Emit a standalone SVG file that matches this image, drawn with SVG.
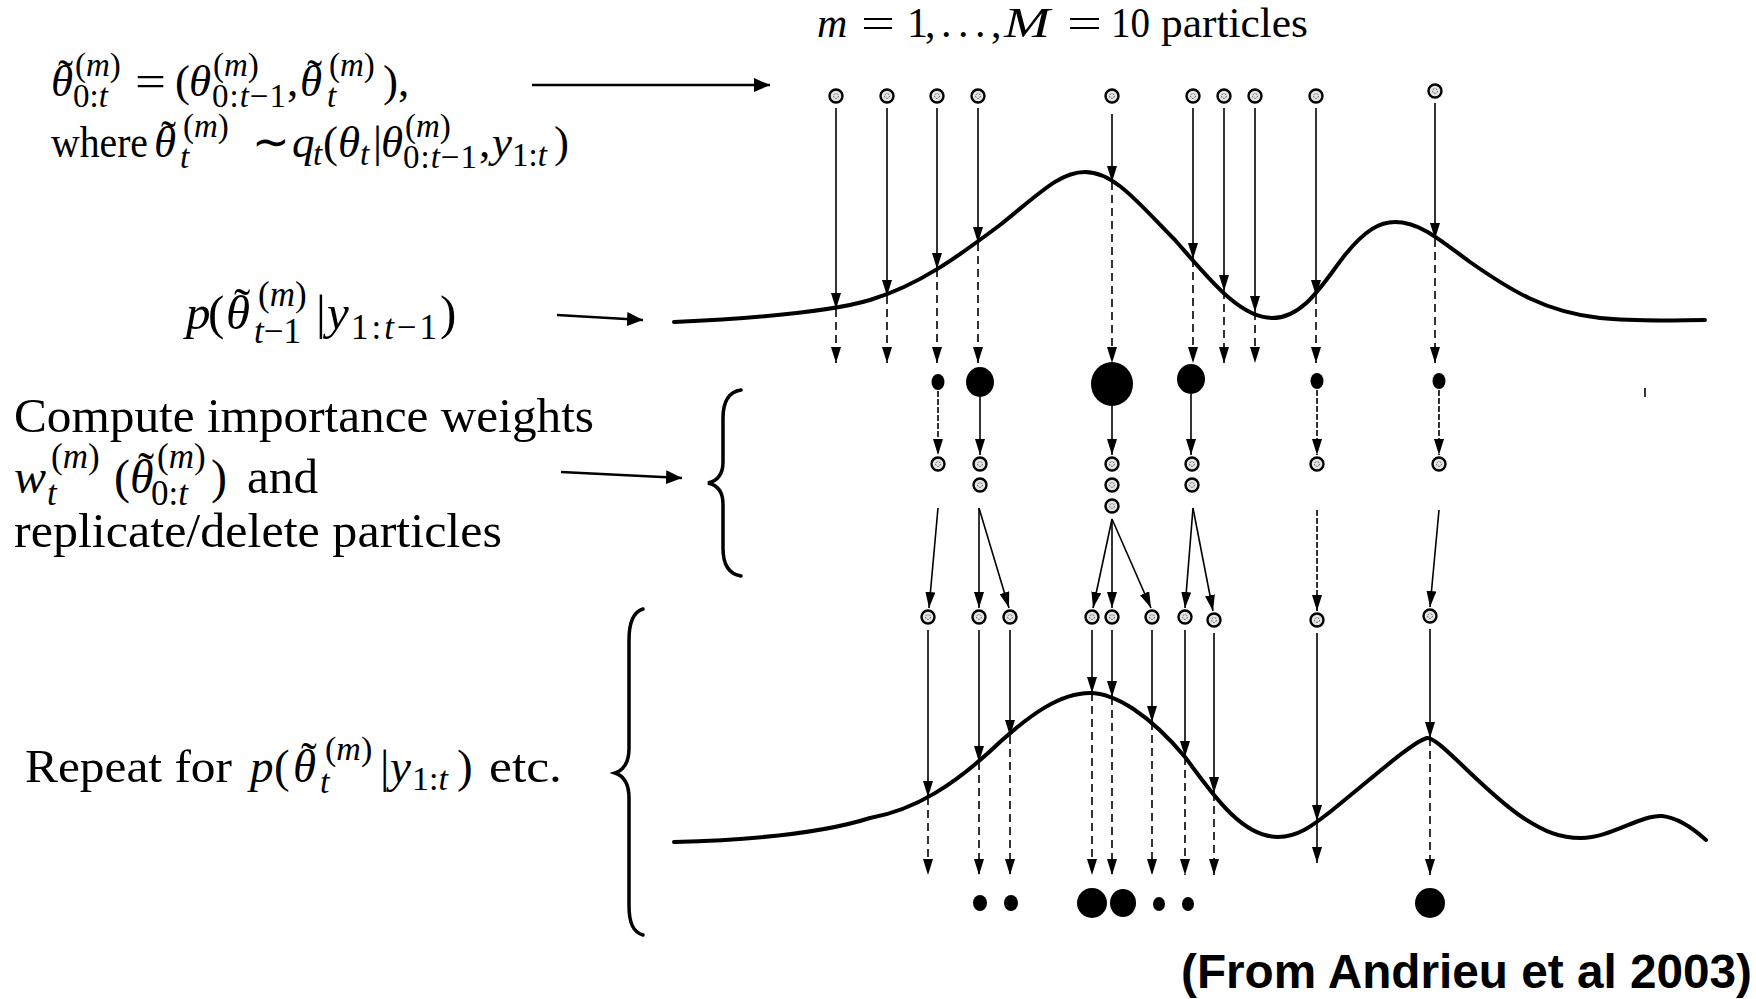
<svg xmlns="http://www.w3.org/2000/svg" xmlns:xlink="http://www.w3.org/1999/xlink" width="1756" height="999" viewBox="0 0 1756 999">
<style>
.t{font-family:"Liberation Serif","Times New Roman",serif;fill:#000}
.i{font-style:italic}
.sans{font-family:"Liberation Sans",Arial,sans-serif;font-weight:bold;fill:#000}
.ln{stroke:#000;stroke-width:1.6;fill:none}
.dash{stroke-dasharray:8 5}
.brk{stroke-dasharray:6 2}
.curve{stroke:#000;stroke-width:4;fill:none;stroke-linecap:round;stroke-linejoin:round}
.brace{stroke:#000;stroke-width:3.5;fill:none;stroke-linecap:round}
.tarrow{stroke:#000;stroke-width:2.5;fill:none}
.dot{fill:#000}
</style>
<defs>
<marker id="ah" viewBox="0 0 16 10" refX="16" refY="5" markerWidth="16" markerHeight="10" markerUnits="userSpaceOnUse" orient="auto"><path d="M0,0 L16,5 L0,10 z" fill="#000"/></marker>
<marker id="ahb" viewBox="0 0 16 14" refX="16" refY="7" markerWidth="16" markerHeight="14" markerUnits="userSpaceOnUse" orient="auto"><path d="M0,0 L16,7 L0,14 z" fill="#000"/></marker>
<g id="pt"><circle r="6.5" fill="#e4e4e4" stroke="#000" stroke-width="2.4"/><circle r="2.4" fill="none" stroke="#555" stroke-width="1" stroke-dasharray="1.5 1.2"/></g>
</defs>
<rect width="1756" height="999" fill="#fff"/>

<!-- text labels -->
<g id="label-particles">
<text class="t" font-size="42">
<tspan x="817" y="37" class="i">m</tspan><tspan x="861" y="37" textLength="34" lengthAdjust="spacingAndGlyphs">=</tspan><tspan x="907" y="37">1</tspan><tspan x="925" y="37">,</tspan><tspan x="941" y="37">.</tspan><tspan x="958" y="37">.</tspan><tspan x="975" y="37">.</tspan><tspan x="991" y="37">,</tspan><tspan x="1004" y="37" class="i" textLength="46" lengthAdjust="spacingAndGlyphs">M</tspan><tspan x="1067" y="37" textLength="35" lengthAdjust="spacingAndGlyphs">=</tspan><tspan x="1111" y="37" textLength="39" lengthAdjust="spacingAndGlyphs">10</tspan><tspan x="1161" y="37" textLength="147" lengthAdjust="spacingAndGlyphs">particles</tspan>
</text>
</g>

<g id="label-proposal">
<text class="t" font-size="45">
<tspan x="51" y="96" class="i">θ</tspan><tspan x="58" y="90">˜</tspan>
<tspan x="75" y="76" font-size="33">(<tspan class="i">m</tspan>)</tspan>
<tspan x="73" y="107" font-size="33">0:<tspan class="i">t</tspan></tspan>
<tspan x="135" y="96" textLength="31" lengthAdjust="spacingAndGlyphs">=</tspan>
<tspan x="175" y="96">(</tspan>
<tspan x="189" y="96" class="i">θ</tspan>
<tspan x="213" y="76" font-size="33">(<tspan class="i">m</tspan>)</tspan>
<tspan x="212" y="107" font-size="33" textLength="74" lengthAdjust="spacing">0:<tspan class="i">t</tspan>−1</tspan>
<tspan x="287" y="96">,</tspan>
<tspan x="300" y="96" class="i">θ</tspan><tspan x="307" y="90">˜</tspan>
<tspan x="329" y="76" font-size="33">(<tspan class="i">m</tspan>)</tspan>
<tspan x="327" y="107" font-size="33" class="i">t</tspan>
<tspan x="383" y="96">),</tspan>
</text>
<text class="t" font-size="45">
<tspan x="51" y="157" textLength="97" lengthAdjust="spacingAndGlyphs">where</tspan>
<tspan x="154" y="157" class="i">θ</tspan><tspan x="161" y="151">˜</tspan>
<tspan x="183" y="137" font-size="33">(<tspan class="i">m</tspan>)</tspan>
<tspan x="180" y="168" font-size="33" class="i">t</tspan>
<tspan x="252" y="157">∼</tspan>
<tspan x="292" y="157" class="i">q</tspan>
<tspan x="313" y="165" font-size="33" class="i">t</tspan>
<tspan x="323" y="157">(</tspan>
<tspan x="338" y="157" class="i">θ</tspan>
<tspan x="360" y="165" font-size="33" class="i">t</tspan>
<tspan x="373" y="157">|</tspan>
<tspan x="381" y="157" class="i">θ</tspan>
<tspan x="405" y="137" font-size="33">(<tspan class="i">m</tspan>)</tspan>
<tspan x="403" y="168" font-size="33" textLength="74" lengthAdjust="spacing">0:<tspan class="i">t</tspan>−1</tspan>
<tspan x="479" y="157">,</tspan>
<tspan x="492" y="157" class="i">y</tspan>
<tspan x="512" y="166" font-size="33">1:<tspan class="i">t</tspan></tspan>
<tspan x="554" y="157">)</tspan>
</text>
</g>

<g id="label-prior">
<text class="t" font-size="49">
<tspan x="186" y="329" class="i">p</tspan>
<tspan x="208" y="329">(</tspan>
<tspan x="226" y="329" class="i">θ</tspan><tspan x="234" y="322">˜</tspan>
<tspan x="258" y="306" font-size="35">(<tspan class="i">m</tspan>)</tspan>
<tspan x="254" y="343" font-size="35"><tspan class="i">t</tspan>−1</tspan>
<tspan x="316" y="329">|</tspan>
<tspan x="327" y="329" class="i">y</tspan>
<tspan x="351" y="339" font-size="35" textLength="86" lengthAdjust="spacing">1:<tspan class="i">t</tspan>−1</tspan>
<tspan x="440" y="329">)</tspan>
</text>
</g>

<g id="label-weights">
<text class="t" font-size="48">
<tspan x="14" y="432" textLength="580" lengthAdjust="spacingAndGlyphs">Compute importance weights</tspan>
</text>
<text class="t" font-size="48">
<tspan x="14" y="493" class="i">w</tspan>
<tspan x="51" y="468" font-size="35">(<tspan class="i">m</tspan>)</tspan>
<tspan x="47" y="505" font-size="35" class="i">t</tspan>
<tspan x="114" y="493">(</tspan>
<tspan x="130" y="493" class="i">θ</tspan><tspan x="138" y="486">˜</tspan>
<tspan x="157" y="468" font-size="35">(<tspan class="i">m</tspan>)</tspan>
<tspan x="151" y="505" font-size="35">0:<tspan class="i">t</tspan></tspan>
<tspan x="211" y="493">)</tspan>
<tspan x="247" y="493" textLength="71" lengthAdjust="spacingAndGlyphs">and</tspan>
</text>
<text class="t" font-size="48">
<tspan x="14" y="547" textLength="488" lengthAdjust="spacingAndGlyphs">replicate/delete particles</tspan>
</text>
</g>

<g id="label-repeat">
<text class="t" font-size="47">
<tspan x="25" y="782" textLength="207" lengthAdjust="spacingAndGlyphs">Repeat for</tspan>
<tspan x="250" y="782" class="i">p</tspan>
<tspan x="274" y="782">(</tspan>
<tspan x="293" y="782" class="i">θ</tspan><tspan x="301" y="775">˜</tspan>
<tspan x="325" y="760" font-size="34">(<tspan class="i">m</tspan>)</tspan>
<tspan x="320" y="793" font-size="34" class="i">t</tspan>
<tspan x="380" y="782">|</tspan>
<tspan x="390" y="782" class="i">y</tspan>
<tspan x="412" y="790" font-size="34">1:<tspan class="i">t</tspan></tspan>
<tspan x="457" y="782">)</tspan>
<tspan x="489" y="782" textLength="73" lengthAdjust="spacingAndGlyphs">etc.</tspan>
</text>
</g>

<g id="label-source">
<text class="sans" font-size="48" x="1181" y="988" textLength="571" lengthAdjust="spacingAndGlyphs">(From Andrieu et al 2003)</text>
</g>

<!-- braces -->
<g id="brace-weights">
<path class="brace" d="M741,390 C728,392 723,402 723,418 L723,462 C723,475 717,481 708,483 C717,485 723,491 723,504 L723,548 C723,564 728,574 741,576"/>
</g>
<g id="brace-repeat">
<path class="brace" d="M643,609 C633,612 629,622 629,640 L629,748 C629,762 624,770 615,773 C624,776 629,784 629,798 L629,905 C629,923 633,932 643,935"/>
</g>

<!-- densities -->
<g id="density-prior">
<path class="curve" d="M674,322 C760,318 830,312 870,300 C920,285 960,255 1000,225 C1040,193 1060,172 1085,172 C1115,172 1140,205 1175,240 C1210,280 1240,318 1272,318 C1305,318 1325,280 1345,255 C1365,230 1380,222 1395,222 C1420,222 1440,240 1470,262 C1510,290 1545,312 1600,318 C1640,322 1680,320 1705,320"/>
</g>
<g id="density-posterior">
<path class="curve" d="M674,842 C750,840 820,834 870,818 C915,810 955,785 1000,742 C1030,715 1060,693 1090,693 C1115,693 1150,715 1185,757 C1210,790 1240,837 1278,837 C1298,837 1312,826 1330,812 C1370,780 1412,742 1427,738 C1438,736 1482,790 1522,817 C1545,832 1560,838 1581,838 C1610,838 1640,815 1662,816 C1680,818 1695,830 1706,840"/>
</g>

<!-- particles -->
<g id="particles-proposed">
<use id="p1" href="#pt" x="836" y="96"/><use id="p2" href="#pt" x="887" y="96"/><use id="p3" href="#pt" x="937" y="96"/><use id="p4" href="#pt" x="978" y="96"/><use id="p5" href="#pt" x="1112" y="96"/><use id="p6" href="#pt" x="1193" y="96"/><use id="p7" href="#pt" x="1224" y="96"/><use id="p8" href="#pt" x="1255" y="96"/><use id="p9" href="#pt" x="1316" y="96"/><use id="p10" href="#pt" x="1435" y="91"/>
</g>
<g id="weights-1">
<ellipse class="dot" cx="938" cy="382" rx="6.5" ry="8"/>
<ellipse class="dot" cx="980" cy="382" rx="14" ry="15"/>
<ellipse class="dot" cx="1112" cy="384" rx="21" ry="22"/>
<ellipse class="dot" cx="1191" cy="379" rx="14" ry="15"/>
<ellipse class="dot" cx="1317" cy="381" rx="6.5" ry="8"/>
<ellipse class="dot" cx="1439" cy="381" rx="6.5" ry="8"/>
<line class="ln" x1="1645" y1="388" x2="1645" y2="397"/>
</g>
<g id="particles-resampled">
<use href="#pt" x="938" y="464"/>
<use href="#pt" x="980" y="464"/><use href="#pt" x="980" y="485"/>
<use href="#pt" x="1112" y="464"/><use href="#pt" x="1112" y="485"/><use href="#pt" x="1112" y="506"/>
<use href="#pt" x="1192" y="464"/><use href="#pt" x="1192" y="485"/>
<use href="#pt" x="1317" y="464"/>
<use href="#pt" x="1439" y="464"/>
</g>
<g id="particles-next">
<use href="#pt" x="928" y="617"/><use href="#pt" x="979" y="617"/><use href="#pt" x="1010" y="617"/><use href="#pt" x="1092" y="617"/><use href="#pt" x="1112" y="617"/><use href="#pt" x="1152" y="617"/><use href="#pt" x="1185" y="617"/><use href="#pt" x="1214" y="620"/><use href="#pt" x="1317" y="620"/><use href="#pt" x="1430" y="616"/>
</g>
<g id="weights-2">
<ellipse class="dot" cx="980" cy="903" rx="7" ry="8"/>
<ellipse class="dot" cx="1011" cy="903" rx="7" ry="8"/>
<ellipse class="dot" cx="1092" cy="903" rx="15" ry="15"/>
<ellipse class="dot" cx="1123" cy="903" rx="13" ry="14"/>
<ellipse class="dot" cx="1159" cy="904" rx="6" ry="7"/>
<ellipse class="dot" cx="1188" cy="904" rx="6" ry="7"/>
<ellipse class="dot" cx="1430" cy="903" rx="15" ry="15"/>
</g>

<!-- connectors -->
<g id="connectors">
<line class="tarrow" x1="532" y1="85" x2="770" y2="85" marker-end="url(#ahb)"/>
<line class="tarrow" x1="557" y1="315" x2="643" y2="320" marker-end="url(#ahb)"/>
<line class="tarrow" x1="561" y1="472" x2="682" y2="478" marker-end="url(#ahb)"/>

<g id="c-row1" marker-end="url(#ah)">
<line class="ln" x1="836" y1="108" x2="836" y2="309"/><line class="ln dash" x1="836" y1="309" x2="836" y2="363"/>
<line class="ln" x1="887" y1="108" x2="887" y2="296"/><line class="ln dash" x1="887" y1="296" x2="887" y2="363"/>
<line class="ln" x1="937" y1="108" x2="937" y2="269"/><line class="ln dash" x1="937" y1="269" x2="937" y2="363"/>
<line class="ln" x1="978" y1="108" x2="978" y2="243"/><line class="ln dash" x1="978" y1="243" x2="978" y2="363"/>
<line class="ln" x1="1112" y1="114" x2="1112" y2="182"/><line class="ln dash" x1="1112" y1="182" x2="1112" y2="363"/>
<line class="ln" x1="1193" y1="108" x2="1193" y2="259"/><line class="ln dash" x1="1193" y1="259" x2="1193" y2="363"/>
<line class="ln" x1="1224" y1="108" x2="1224" y2="291"/><line class="ln dash" x1="1224" y1="291" x2="1224" y2="363"/>
<line class="ln" x1="1255" y1="108" x2="1255" y2="312"/><line class="ln dash" x1="1255" y1="312" x2="1255" y2="363"/>
<line class="ln" x1="1316" y1="108" x2="1316" y2="296"/><line class="ln dash" x1="1316" y1="296" x2="1316" y2="363"/>
<line class="ln" x1="1435" y1="103" x2="1435" y2="239"/><line class="ln dash" x1="1435" y1="239" x2="1435" y2="363"/>
</g>

<g id="c-row2" marker-end="url(#ah)">
<line class="ln brk" x1="938" y1="391" x2="938" y2="455"/>
<line class="ln" x1="980" y1="397" x2="980" y2="455"/>
<line class="ln" x1="1112" y1="406" x2="1112" y2="455"/>
<line class="ln" x1="1191" y1="394" x2="1191" y2="455"/>
<line class="ln brk" x1="1317" y1="390" x2="1317" y2="455"/>
<line class="ln brk" x1="1439" y1="390" x2="1439" y2="455"/>
</g>

<g id="c-row3" marker-end="url(#ah)">
<line class="ln" x1="938" y1="508" x2="929" y2="608"/>
<line class="ln" x1="979" y1="508" x2="979" y2="608"/>
<line class="ln" x1="979" y1="508" x2="1009" y2="608"/>
<line class="ln" x1="1112" y1="519" x2="1093" y2="608"/>
<line class="ln" x1="1112" y1="519" x2="1112" y2="608"/>
<line class="ln" x1="1112" y1="519" x2="1151" y2="608"/>
<line class="ln" x1="1193" y1="508" x2="1185" y2="608"/>
<line class="ln" x1="1193" y1="508" x2="1213" y2="611"/>
<line class="ln brk" x1="1317" y1="510" x2="1317" y2="611"/>
<line class="ln" x1="1439" y1="510" x2="1430" y2="607"/>
</g>

<g id="c-row4" marker-end="url(#ah)">
<line class="ln" x1="928" y1="630" x2="928" y2="797"/><line class="ln dash" x1="928" y1="797" x2="928" y2="875"/>
<line class="ln" x1="979" y1="630" x2="979" y2="762"/><line class="ln dash" x1="979" y1="762" x2="979" y2="875"/>
<line class="ln" x1="1010" y1="630" x2="1010" y2="736"/><line class="ln dash" x1="1010" y1="736" x2="1010" y2="875"/>
<line class="ln" x1="1092" y1="630" x2="1092" y2="693"/><line class="ln dash" x1="1092" y1="693" x2="1092" y2="875"/>
<line class="ln" x1="1112" y1="630" x2="1112" y2="697"/><line class="ln dash" x1="1112" y1="697" x2="1112" y2="875"/>
<line class="ln" x1="1152" y1="630" x2="1152" y2="722"/><line class="ln dash" x1="1152" y1="722" x2="1152" y2="875"/>
<line class="ln" x1="1185" y1="630" x2="1185" y2="757"/><line class="ln dash" x1="1185" y1="757" x2="1185" y2="875"/>
<line class="ln" x1="1214" y1="633" x2="1214" y2="793"/><line class="ln dash" x1="1214" y1="793" x2="1214" y2="875"/>
<line class="ln" x1="1317" y1="633" x2="1317" y2="821"/><line class="ln" x1="1317" y1="821" x2="1317" y2="863"/>
<line class="ln" x1="1430" y1="629" x2="1430" y2="738"/><line class="ln dash" x1="1430" y1="738" x2="1430" y2="875"/>
</g>
</g>
</svg>
